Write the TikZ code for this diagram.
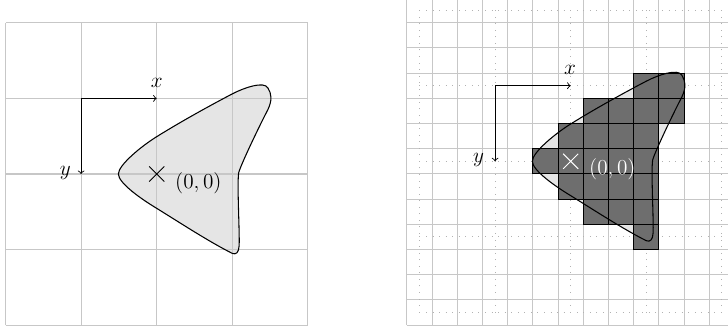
\documentclass[tikz,border=0pt]{standalone}
\begin{document}
\begin{tikzpicture}[x=1.5cm,y=1.5cm,
  gridline/.style={draw=black!22,line width=0.6pt},
  coarsedot/.style={draw=black!30,line width=0.5pt,dash pattern=on 0.5pt off 3.2pt},
  outline/.style={draw=black,line width=0.6pt},
  lightfill/.style={fill=black!10},
  cellbox/.style={fill=black!57,draw=black,line width=0.6pt},
  axis/.style={draw=black,line width=0.5pt,->},
  lab/.style={font=\fontsize{11.5}{13}\selectfont,inner sep=0pt},
  blobpath/.style={insert path={(-0.507,0)
     .. controls (-0.507,0.12) and (-0.2,0.37) .. (0,0.494)
     .. controls (0.33,0.70) and (0.75,0.93) .. (1.0,1.06)
     .. controls (1.157,1.142) and (1.416,1.232) .. (1.47,1.14)
     .. controls (1.52,1.06) and (1.53,0.98) .. (1.47,0.85)
     .. controls (1.36,0.64) and (1.12,0.14) .. (1.085,0.02)
     .. controls (1.06,-0.12) and (1.10,-0.8) .. (1.09,-0.95)
     .. controls (1.085,-1.04) and (1.05,-1.07) .. (1.0,-1.05)
     .. controls (0.7,-0.9) and (0.3,-0.64) .. (0,-0.454)
     .. controls (-0.2,-0.334) and (-0.507,-0.12) .. (-0.507,0) -- cycle}}
]
\useasboundingbox (-2.073,-2.077) rectangle (7.557,2.302);
\clip (-2.073,-2.077) rectangle (7.557,2.302);

% ---------- left panel ----------
\begin{scope}
  \path[lightfill,blobpath];
  \draw[gridline,step=1.5cm] (-2,-2) grid (2,2);
  \path[outline,blobpath];
  \coordinate (Lc) at (-1,1);
  \coordinate (Lx) at (0,1);
  \coordinate (Ly) at (-1,0);
  \draw[axis] (Lc) -- (Lx);
  \draw[axis] (Lc) -- (Ly);
  \node[lab] (Lxl) at (0,1.2) {$x$};
  \node[lab] (Lyl) at (-1.21,0.01) {$y$};
  \draw[line width=0.5pt] (-0.1,-0.1) -- (0.1,0.1) (-0.1,0.1) -- (0.1,-0.1);
  \node[lab,anchor=west] (Lo) at (0.24,-0.115) {$(0,0)$};
\end{scope}

% ---------- right panel ----------
\begin{scope}[shift={(5.476,0.168)}]
  \path[lightfill,blobpath];
  \foreach \k in {0,...,13}{
    \draw[gridline] ({(\k-6.5)/3},{-6.5/3}) -- ({(\k-6.5)/3},{6.5/3});
    \draw[gridline] ({-6.5/3},{(\k-6.5)/3}) -- ({6.5/3},{(\k-6.5)/3});
  }
  \draw[coarsedot,step=1.5cm] (-2,-2) grid (2,2);
  \foreach \i/\j in {3/3,4/3,
                     1/2,2/2,3/2,4/2,
                     0/1,1/1,2/1,3/1,
                     -1/0,0/0,1/0,2/0,3/0,
                     0/-1,1/-1,2/-1,3/-1,
                     1/-2,2/-2,3/-2,
                     3/-3}{
    \path[cellbox] ({\i/3-1/6},{\j/3-1/6}) rectangle ({\i/3+1/6},{\j/3+1/6});
  }
  \path[outline,blobpath];
  \coordinate (Rc) at (-1,1);
  \coordinate (Rx) at (0,1);
  \coordinate (Ry) at (-1,0);
  \draw[axis] (Rc) -- (Rx);
  \draw[axis] (Rc) -- (Ry);
  \node[lab] (Rxl) at (-0.01,1.21) {$x$};
  \node[lab] (Ryl) at (-1.22,0.02) {$y$};
  \draw[white,line width=0.5pt] (-0.1,-0.1) -- (0.1,0.1) (-0.1,0.1) -- (0.1,-0.1);
  \node[lab,anchor=west,text=white] (Ro) at (0.24,-0.1) {$(0,0)$};
\end{scope}
\end{tikzpicture}
\end{document}
